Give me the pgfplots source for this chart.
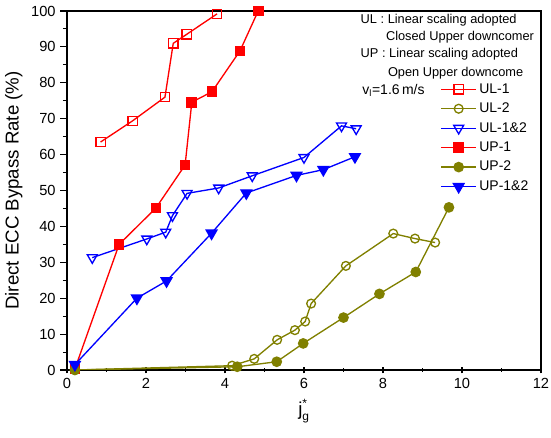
\documentclass[border=0pt]{standalone}
\usepackage{fontspec}
\setmainfont{Liberation Sans}
\usepackage{pgfplots}
\pgfplotsset{compat=1.18}
\usetikzlibrary{calc}
\definecolor{olv}{RGB}{128,128,0}
\begin{document}
\begin{tikzpicture}[x=1pt,y=1pt]
\begin{axis}[
  scale only axis,
  width=355.5pt, height=269.25pt,
  xmin=0, xmax=12, ymin=0, ymax=100,
  xtick={0,2,...,12}, ytick={0,10,...,100},
  minor x tick num=1, minor y tick num=1,
  xtick pos=bottom, ytick pos=left,
  x tick style={black,line width=0.8pt},
  y tick style={black,line width=0.8pt},
  xtick align=center, ytick align=outside,
  major tick length=5pt, minor tick length=3pt,
  axis line style={line width=1pt},
  /pgf/number format/assume math mode=true,
  ticklabel style={font=\fontsize{11}{13}\selectfont},
  xlabel={$\hbox{j}_{\hbox{\fontsize{9}{10}\selectfont g}}^{\hbox{\fontsize{9}{10}\selectfont *}}$},
  xlabel style={font=\fontsize{14}{16}\selectfont, at={(axis description cs:0.5,-0.115)}, anchor=center},
  ylabel={Direct ECC Bypass Rate (\%)},
  ylabel style={font=\fontsize{14}{16}\selectfont, at={(axis description cs:-0.112,0.5)}, anchor=center},
  legend style={draw=none, fill=none, at={(rel axis cs:0.785,0.81)}, anchor=north west,
    font=\fontsize{10.5}{12}\selectfont, row sep=1.8pt, inner sep=1pt},
  legend cell align=left,
  legend image code/.code={\draw[mark repeat=2,mark phase=2] plot coordinates {(0pt,0pt) (13pt,0pt) (26pt,0pt)};},
  every axis plot/.append style={line width=1pt},
]
\addplot[red, mark=square, mark size=3.5pt, mark options={solid,fill=white,line width=1pt}] coordinates {
 (0.85,63.5) (1.66,69.4) (2.48,76.0) (2.69,91.0) (3.03,93.5) (3.80,99.2)};
\addlegendentry{UL-1}
\addplot[olv, mark=o, mark size=3.3pt, mark options={solid,fill=white,line width=1pt}] coordinates {
 (0.2,0) (4.18,1.2) (4.74,3.1) (5.32,8.4) (5.77,11.1) (6.03,13.5) (6.18,18.5) (7.06,29.0) (8.26,38.0) (8.81,36.6) (9.32,35.5)};
\addlegendentry{UL-2}
\addplot[blue, mark=triangle, mark size=4.3pt, mark options={solid,rotate=180,fill=white,line width=1pt}] coordinates {
 (0.64,31.3) (2.02,36.5) (2.50,38.4) (2.67,43.0) (3.04,49.2) (3.84,50.7) (4.69,54.1) (6.0,59.2) (6.95,68.0) (7.32,67.2)};
\addlegendentry{UL-1\&2}
\addplot[red, mark=square*, mark size=3.5pt, mark options={solid,fill=red}] coordinates {
 (0.2,0.3) (1.32,35.0) (2.25,45.1) (2.99,57.1) (3.16,74.6) (3.67,77.5) (4.38,88.9) (4.84,100)};
\addlegendentry{UP-1}
\addplot[olv, mark=*, mark size=3.5pt, mark options={solid,fill=olv}] coordinates {
 (0.2,0) (4.31,0.9) (5.31,2.3) (5.98,7.4) (7.0,14.6) (7.91,21.2) (8.83,27.3) (9.67,45.3)};
\addlegendentry{UP-2}
\addplot[blue, mark=triangle*, mark size=4.6pt, mark options={solid,rotate=180,fill=blue}] coordinates {
 (0.2,1.5) (1.77,20.0) (2.52,24.8) (3.66,38.1) (4.54,49.3) (5.81,54.2) (6.49,55.8) (7.29,59.4)};
\addlegendentry{UP-1\&2}
\begin{scope}[every node/.style={font=\fontsize{9.6}{11}\selectfont, anchor=west, inner sep=0pt}]
\node at (axis cs:7.43,97.5) {UL : Linear scaling adopted};
\node at (axis cs:8.07,92.7) {Closed Upper downcomer};
\node at (axis cs:7.43,88.0) {UP : Linear scaling adopted};
\node at (axis cs:8.12,82.7) {Open Upper downcome};
\node[font=\fontsize{10.5}{12}\selectfont] at (axis cs:7.47,77.8) {v$_{\hbox{\fontsize{7}{8}\selectfont l}}$=1.6\,m/s};
\end{scope}
\end{axis}
\pgfresetboundingbox
\path ($(current axis.south west)+(-50.25pt,-51pt)$) rectangle ($(current axis.north east)+(7.5pt,8.25pt)$);
\end{tikzpicture}
\end{document}
